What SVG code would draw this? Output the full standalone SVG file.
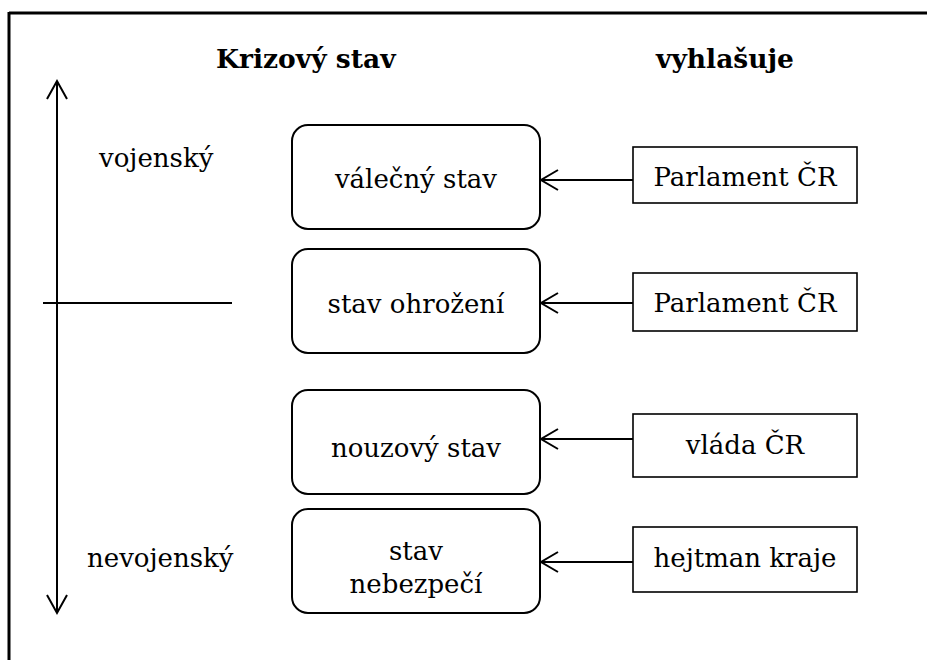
<svg xmlns="http://www.w3.org/2000/svg" width="927" height="660" viewBox="0 0 927 660">
<style>
text{font-family:"DejaVu Serif","Liberation Serif",serif;font-size:26px;fill:#000}
.b{font-weight:bold;font-size:26.5px}
.m{text-anchor:middle}
.st{fill:none;stroke:#000;stroke-width:2}
.rb{fill:#fff;stroke:#000;stroke-width:2}
.rr{fill:#fff;stroke:#000;stroke-width:1.6}
</style>
<rect width="927" height="660" fill="#fff"/>
<g id="frame">
<line x1="9" y1="13" x2="927" y2="13" stroke="#000" stroke-width="3"/>
<line x1="9" y1="12" x2="9" y2="660" stroke="#000" stroke-width="3"/>
</g>
<g id="headers">
<text class="b" x="216" y="68">Krizový stav</text>
<text class="b" x="656" y="68">vyhlašuje</text>
</g>
<g id="axis">
<line class="st" x1="57" y1="81" x2="57" y2="612"/>
<path class="st" d="M47 99 L57 81 L67 99"/>
<path class="st" d="M47 595 L57 613 L67 595"/>
<line class="st" x1="43" y1="303" x2="232" y2="303"/>
<text x="99" y="167">vojenský</text>
<text x="87" y="567">nevojenský</text>
</g>
<g id="connectors">
<line class="st" x1="633" y1="180" x2="542" y2="180"/>
<path class="st" d="M558 170 L541 180 L558 190"/>
<line class="st" x1="633" y1="303" x2="542" y2="303"/>
<path class="st" d="M558 293 L541 303 L558 313"/>
<line class="st" x1="633" y1="439" x2="542" y2="439"/>
<path class="st" d="M558 429 L541 439 L558 449"/>
<line class="st" x1="633" y1="562" x2="542" y2="562"/>
<path class="st" d="M558 552 L541 562 L558 572"/>
</g>
<g id="valecny">
<rect class="rb" x="292" y="125" width="248" height="104" rx="16"/>
<text class="m" x="416" y="188">válečný stav</text>
</g>
<g id="ohrozeni">
<rect class="rb" x="292" y="249" width="248" height="104" rx="16"/>
<text class="m" x="416" y="313">stav ohrožení</text>
</g>
<g id="nouzovy">
<rect class="rb" x="292" y="390" width="248" height="104" rx="16"/>
<text class="m" x="416" y="457">nouzový stav</text>
</g>
<g id="nebezpeci">
<rect class="rb" x="292" y="509" width="248" height="104" rx="16"/>
<text class="m" x="416" y="560">stav</text>
<text class="m" x="416" y="593">nebezpečí</text>
</g>
<g id="parlament1">
<rect class="rr" x="633" y="147" width="224" height="56"/>
<text class="m" x="745" y="186">Parlament ČR</text>
</g>
<g id="parlament2">
<rect class="rr" x="633" y="273" width="224" height="58"/>
<text class="m" x="745" y="312">Parlament ČR</text>
</g>
<g id="vlada">
<rect class="rr" x="633" y="414" width="224" height="63"/>
<text class="m" x="745" y="454">vláda ČR</text>
</g>
<g id="hejtman">
<rect class="rr" x="633" y="527" width="224" height="65"/>
<text class="m" x="745" y="567">hejtman kraje</text>
</g>
</svg>
